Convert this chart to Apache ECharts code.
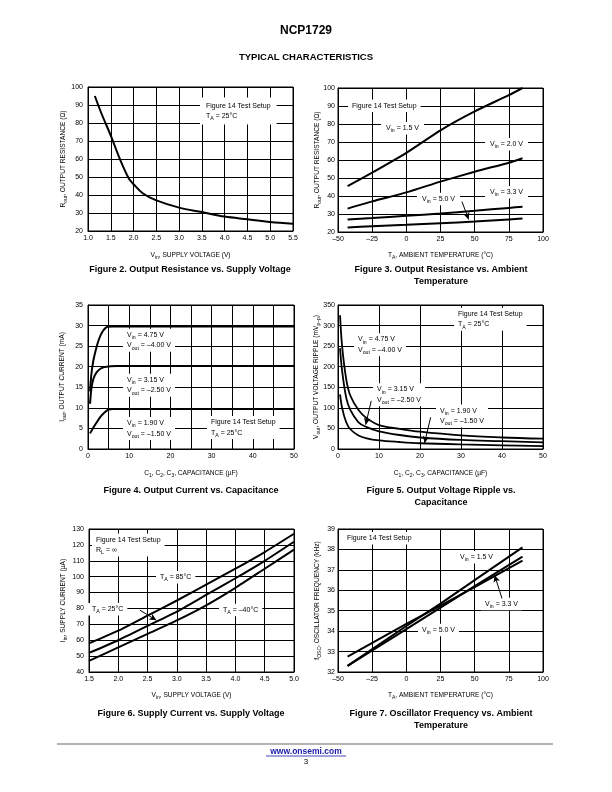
<!DOCTYPE html>
<html><head><meta charset="utf-8">
<script src="https://cdn.jsdelivr.net/npm/echarts@6/dist/echarts.min.js"></script>
<style>html,body{margin:0;padding:0;background:#fff}#c{width:612px;height:792px}</style>
</head><body><div id="c"></div>
<script>
// ---------- DATA ----------
// Figure 2: Output resistance vs supply voltage
const fig2Vin  = [1.15, 1.3, 1.5, 1.7, 1.9, 2.0, 2.2, 2.5, 3.0, 3.5, 4.0, 4.5, 5.0, 5.5];
const fig2Rout = [95, 85, 73, 60, 49, 46, 41, 37, 33, 30.5, 28, 26.5, 25, 24];

// Figure 3: Output resistance vs ambient temperature
const fig3Temp = [-43, -25, 0, 25, 50, 75, 85];
const fig3R15  = [45.5, 53, 64, 76.5, 87, 96, 100];
const fig3R20  = [33, 37, 42, 48, 53.5, 58.5, 61];
const fig3R33  = [27, 27.8, 29, 30.3, 31.8, 33.4, 34];
const fig3R50  = [22.5, 23.2, 24, 24.9, 25.8, 27, 27.5];

// Figure 4: Output current vs capacitance
const fig4Cap475 = [0.5, 0.8, 1.3, 2.0, 2.7, 3.5, 4.7, 6, 50];
const fig4I475   = [14, 18, 21.5, 24.5, 26.8, 28.5, 29.7, 29.8, 29.8];
const fig4Cap315 = [0.5, 0.8, 1.3, 2.0, 3.0, 4.0, 5.5, 7, 50];
const fig4I315   = [11, 14.5, 17, 18.5, 19.5, 19.9, 20.1, 20.2, 20.2];
const fig4Cap190 = [0.5, 1, 2, 3, 4, 5, 6, 50];
const fig4I190   = [3.8, 4.7, 6.3, 7.8, 8.9, 9.6, 9.7, 9.7];

// Figure 5: Output voltage ripple vs capacitance
const fig5Cap  = [0.5, 1, 2, 3, 5, 7, 10, 15, 20, 30, 40, 50];
const fig5R475 = [325, 250, 170, 130, 95, 75, 58, 49, 42, 33, 28, 25];
const fig5R315 = [245, 190, 125, 95, 65, 53, 43, 34, 28, 22, 19, 16];
const fig5R190 = [133, 100, 65, 48, 33, 26, 21, 17, 14, 11, 9, 7];

// Figure 6: Supply current vs supply voltage
const fig6Vin  = [1.5, 2.0, 2.5, 3.0, 3.5, 4.0, 4.5, 5.0];
const fig6I85  = [58, 66, 75.5, 85, 95, 105, 115.5, 127];
const fig6I25  = [52, 60, 69, 78, 88.5, 99, 110, 122];
const fig6Im40 = [47, 55.5, 64, 72.5, 82, 93, 105, 117];

// Figure 7: Oscillator frequency vs ambient temperature
const fig7Temp = [-43, 0, 25, 50, 85];
const fig7F15  = [32.3, 34.25, 35.35, 36.5, 38.1];
const fig7F33  = [32.3, 34.1, 35.15, 36.2, 37.65];
const fig7F50  = [32.75, 34.35, 35.25, 36.15, 37.45];

// ---------- STYLE ----------
const FONT = 'Liberation Sans, Arial, Helvetica, sans-serif';
const zip = (xs, ys) => xs.map((x, i) => [x, ys[i]]);
const dash = v => (v < 0 ? '\u2013' + (-v) : String(v));

const nameRich = {
  a: {fontSize: 6.6, fontFamily: FONT, color: '#000', lineHeight: 10},
  s: {fontSize: 5, fontFamily: FONT, color: '#000', verticalAlign: 'bottom'}
};

function axis(i, min, max, interval, name, nameGap, fmt, margin) {
  return {
    type: 'value', gridIndex: i, min, max, interval,
    name, nameLocation: 'middle', nameGap, nameMoveOverlap: false,
    nameTextStyle: {color: '#000', fontFamily: FONT, fontSize: 6.6, rich: nameRich},
    axisLine: {show: true, onZero: false, lineStyle: {color: '#000', width: 1}},
    axisTick: {show: false},
    axisLabel: {color: '#000', fontSize: 7, fontFamily: FONT, margin, formatter: fmt},
    splitLine: {show: true, lineStyle: {color: '#000', width: 1}}
  };
}

const grids = [
  {left: 88,  top: 87,  width: 205, height: 144},
  {left: 338, top: 88,  width: 205, height: 144},
  {left: 88,  top: 305, width: 206, height: 144},
  {left: 338, top: 305, width: 205, height: 144},
  {left: 89,  top: 529, width: 205, height: 143},
  {left: 338, top: 529, width: 205, height: 143}
].map(g => Object.assign({show: true, borderColor: '#000', borderWidth: 1, backgroundColor: 'transparent'}, g));

const VIN = '{a|V}{s|in}{a|, SUPPLY VOLTAGE (V)}';
const TA = '{a|T}{s|A}{a|, AMBIENT TEMPERATURE (°C)}';
const CAP = '{a|C}{s|1}{a|, C}{s|2}{a|, C}{s|3}{a|, CAPACITANCE (µF)}';

const xAxes = [
  axis(0, 1.0, 5.5, 0.5, VIN, 19, v => v.toFixed(1), 3.5),
  axis(1, -50, 100, 25, TA, 18, dash, 3.5),
  axis(2, 0, 50, 5, CAP, 19, v => (v % 10 === 0 ? String(v) : ''), 3.5),
  axis(3, 0, 50, 10, CAP, 19, v => String(v), 3.5),
  axis(4, 1.5, 5.0, 0.5, VIN, 18.5, v => v.toFixed(1), 4),
  axis(5, -50, 100, 25, TA, 18.5, dash, 4)
];
const yAxes = [
  axis(0, 20, 100, 10, '{a|R}{s|out}{a|, OUTPUT RESISTANCE (Ω)}', 20, v => String(v), 5),
  axis(1, 20, 100, 10, '{a|R}{s|out}{a|, OUTPUT RESISTANCE (Ω)}', 16, v => String(v), 3),
  axis(2, 0, 35, 5, '{a|I}{s|out}{a|, OUTPUT CURRENT (mA)}', 21, v => String(v), 5),
  axis(3, 0, 350, 50, '{a|V}{s|out}{a|, OUTPUT VOLTAGE RIPPLE (mV}{s|p\u2013p}{a|)}', 17, v => String(v), 3),
  axis(4, 40, 130, 10, '{a|I}{s|in}{a|, SUPPLY CURRENT (µA)}', 21, v => String(v), 5),
  axis(5, 32, 39, 1, '{a|f}{s|OSC}{a|, OSCILLATOR FREQUENCY (kHz)}', 16, v => String(v), 3)
];

function arrowLine(from, to) {
  return {
    silent: true, animation: false, symbol: ['none', 'arrow'], symbolSize: [5, 7],
    label: {show: false}, lineStyle: {color: '#000', width: 1, type: 'solid'},
    data: [[{coord: from}, {coord: to}]]
  };
}

function line(i, data, opts) {
  return Object.assign({
    type: 'line', xAxisIndex: i, yAxisIndex: i, data, showSymbol: false,
    smooth: 0.35, animation: false, silent: true,
    lineStyle: {color: '#000', width: 2}, itemStyle: {color: '#000'}
  }, opts || {});
}

const series = [
  line(0, zip(fig2Vin, fig2Rout)),
  line(1, zip(fig3Temp, fig3R15), {smooth: 0.2}),
  line(1, zip(fig3Temp, fig3R20), {smooth: 0.2}),
  line(1, zip(fig3Temp, fig3R33), {smooth: 0.2}),
  line(1, zip(fig3Temp, fig3R50), {smooth: 0.2, markLine: arrowLine([40.7, 36.9], [45.6, 27.0])}),
  line(2, zip(fig4Cap475, fig4I475), {smooth: 0.25}),
  line(2, zip(fig4Cap315, fig4I315), {smooth: 0.25}),
  line(2, zip(fig4Cap190, fig4I190), {smooth: 0.25}),
  line(3, zip(fig5Cap, fig5R475), {lineStyle: {color: '#000', width: 1.8}}),
  line(3, zip(fig5Cap, fig5R315), {lineStyle: {color: '#000', width: 1.8}, markLine: arrowLine([8.1, 117], [6.75, 59])}),
  line(3, zip(fig5Cap, fig5R190), {lineStyle: {color: '#000', width: 1.8}, markLine: arrowLine([22.6, 77], [21.1, 14.6])}),
  line(4, zip(fig6Vin, fig6I85), {smooth: 0.2}),
  line(4, zip(fig6Vin, fig6I25), {smooth: 0.2, markLine: arrowLine([2.37, 78.9], [2.65, 72.6])}),
  line(4, zip(fig6Vin, fig6Im40), {smooth: 0.2}),
  line(5, zip(fig7Temp, fig7F15), {smooth: 0}),
  line(5, zip(fig7Temp, fig7F33), {smooth: 0, markLine: arrowLine([70, 35.6], [64.6, 36.74])}),
  line(5, zip(fig7Temp, fig7F50), {smooth: 0})
];

// ---------- TEXT / ANNOTATIONS ----------
const annRich = {
  a: {fontSize: 7, fontFamily: FONT, fill: '#000', lineHeight: 10.5},
  s: {fontSize: 5.2, fontFamily: FONT, fill: '#000', verticalAlign: 'bottom'}
};
function ann(x, y, text, pad) {
  return {
    type: 'text', x, y, z: 1,
    style: {text, rich: annRich, align: 'left', verticalAlign: 'middle',
            backgroundColor: '#fff', padding: pad || [1, 4], fill: '#000'}
  };
}
function plain(x, y, text, size, weight, color, align) {
  return {
    type: 'text', x, y, z: 5,
    style: {text, fontSize: size, fontWeight: weight || 'normal', fontFamily: FONT,
            fill: color || '#000', align: align || 'center', verticalAlign: 'middle'}
  };
}

const TS = '{a|Figure 14 Test Setup}';
const graphics = [
  plain(306, 31, 'NCP1729', 12, 'bold'),
  plain(306, 57, 'TYPICAL CHARACTERISTICS', 9.5, 'bold'),
  // Fig 2
  ann(200, 111, TS + '\n{a|T}{s|A}{a| = 25°C}', [3, 6]),
  // Fig 3
  ann(348, 105.7, TS),
  ann(381, 128.3, '{a|V}{s|in}{a| = 1.5 V}', [1, 5]),
  ann(485, 144.3, '{a|V}{s|in}{a| = 2.0 V}', [1, 5]),
  ann(485, 192.3, '{a|V}{s|in}{a| = 3.3 V}', [1, 5]),
  ann(417, 199, '{a|V}{s|in}{a| = 5.0 V}', [1, 5]),
  // Fig 4
  ann(123, 340.2, '{a|V}{s|in}{a| = 4.75 V}\n{a|V}{s|out}{a| = \u20134.00 V}'),
  ann(123, 385.3, '{a|V}{s|in}{a| = 3.15 V}\n{a|V}{s|out}{a| = \u20132.50 V}'),
  ann(123, 428.4, '{a|V}{s|in}{a| = 1.90 V}\n{a|V}{s|out}{a| = \u20131.50 V}'),
  ann(207, 427.4, TS + '\n{a|T}{s|A}{a| = 25°C}'),
  // Fig 5
  ann(454, 319.3, TS + '\n{a|T}{s|A}{a| = 25°C}'),
  ann(354, 344.7, '{a|V}{s|in}{a| = 4.75 V}\n{a|V}{s|out}{a| = \u20134.00 V}'),
  ann(373, 394.7, '{a|V}{s|in}{a| = 3.15 V}\n{a|V}{s|out}{a| = \u20132.50 V}'),
  ann(436, 416, '{a|V}{s|in}{a| = 1.90 V}\n{a|V}{s|out}{a| = \u20131.50 V}'),
  // Fig 6
  ann(92, 545, TS + '\n{a|R}{s|L}{a| = \u221e}'),
  ann(156, 577.3, '{a|T}{s|A}{a| = 85°C}'),
  ann(88, 609.3, '{a|T}{s|A}{a| = 25°C}'),
  ann(219, 610, '{a|T}{s|A}{a| = \u201340°C}'),
  // Fig 7
  ann(343, 538.3, TS),
  ann(456, 557.3, '{a|V}{s|in}{a| = 1.5 V}'),
  ann(481, 604, '{a|V}{s|in}{a| = 3.3 V}'),
  ann(418, 630, '{a|V}{s|in}{a| = 5.0 V}'),
  // captions
  plain(190, 270, 'Figure 2. Output Resistance vs. Supply Voltage', 9, 'bold'),
  plain(441, 270, 'Figure 3. Output Resistance vs. Ambient', 9, 'bold'),
  plain(441, 281.5, 'Temperature', 9, 'bold'),
  plain(191, 491, 'Figure 4. Output Current vs. Capacitance', 9, 'bold'),
  plain(441, 491, 'Figure 5. Output Voltage Ripple vs.', 9, 'bold'),
  plain(441, 502.5, 'Capacitance', 9, 'bold'),
  plain(191, 714, 'Figure 6. Supply Current vs. Supply Voltage', 9, 'bold'),
  plain(441, 714, 'Figure 7. Oscillator Frequency vs. Ambient', 9, 'bold'),
  plain(441, 725.5, 'Temperature', 9, 'bold'),
  // footer
  {type: 'line', z: 5, shape: {x1: 57, y1: 744, x2: 553, y2: 744}, style: {stroke: '#b4b4b4', lineWidth: 2}},
  plain(306, 751.5, 'www.onsemi.com', 8.5, 'bold', '#1a1aa8'),
  {type: 'line', z: 5, shape: {x1: 266, y1: 756, x2: 346, y2: 756}, style: {stroke: '#1a1aa8', lineWidth: 0.8}},
  plain(306, 762, '3', 8, 'normal')
];

const chart = echarts.init(document.getElementById('c'), null, {renderer: 'canvas', width: 612, height: 792});
chart.setOption({
  animation: false,
  backgroundColor: '#fff',
  textStyle: {fontFamily: FONT},
  grid: grids,
  xAxis: xAxes,
  yAxis: yAxes,
  series,
  graphic: graphics
});
</script>
</body></html>
